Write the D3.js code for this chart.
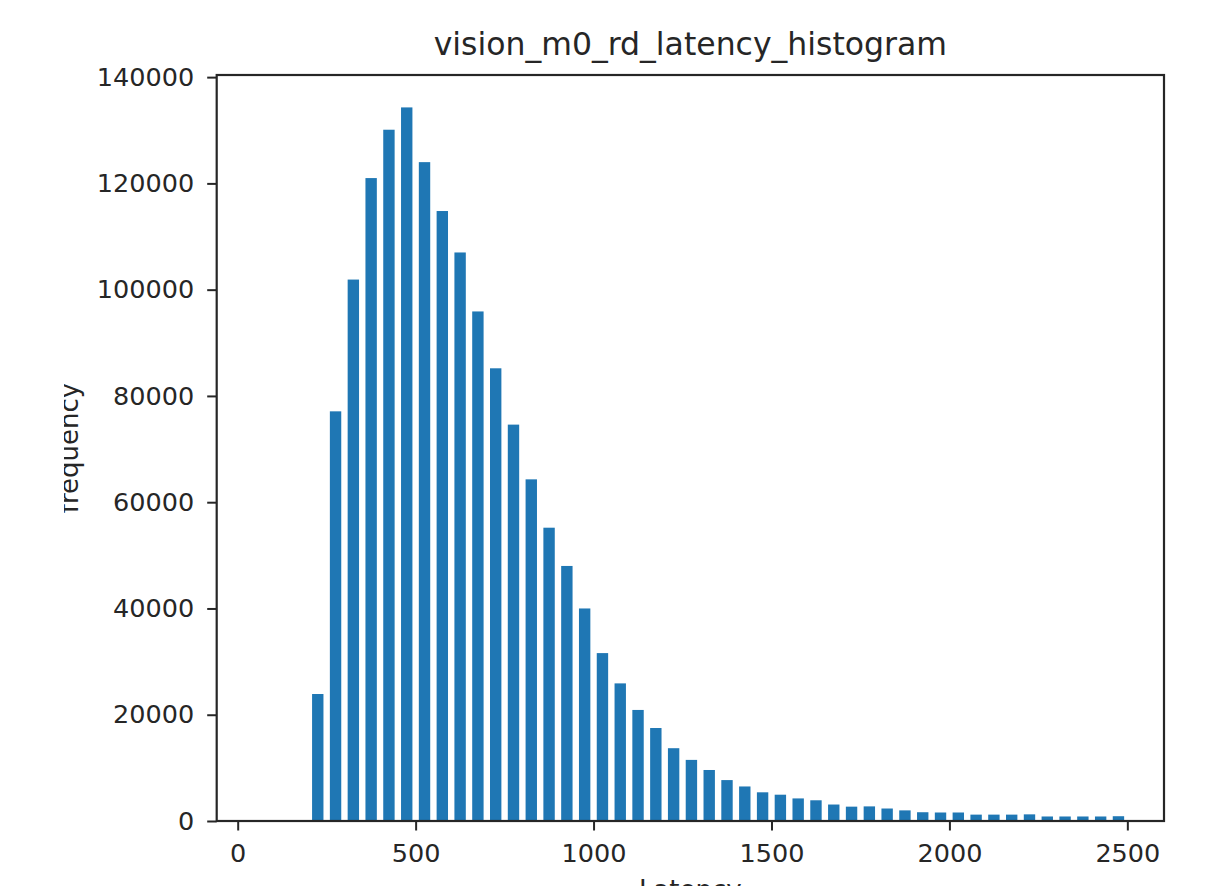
<!DOCTYPE html>
<html>
<head>
<meta charset="utf-8">
<script src="https://cdn.jsdelivr.net/npm/d3@7"></script>
<style>
  html, body { margin: 0; padding: 0; background: #fff; overflow: hidden; }
  svg { display: block; font-family: "DejaVu Sans", sans-serif; }
  .axis text { fill: #262626; font-size: 25.5px; font-family: "DejaVu Sans", sans-serif; }
  .axis line { stroke: #262626; stroke-width: 2; }
</style>
</head>
<body>
<script>
// bin centres (latency) and the count in each bin
const latency = [
  225, 275, 325, 375, 425, 475, 525, 575, 625, 675,
  725, 775, 825, 875, 925, 975, 1025, 1075, 1125, 1175,
  1225, 1275, 1325, 1375, 1425, 1475, 1525, 1575, 1625, 1675,
  1725, 1775, 1825, 1875, 1925, 1975, 2025, 2075, 2125, 2175,
  2225, 2275, 2325, 2375, 2425, 2475
];
const frequency = [
  23900, 77100, 101900, 121000, 130100, 134300, 124000, 114800, 107000, 95900,
  85200, 74600, 64300, 55200, 48000, 40000, 31600, 25900, 20900, 17500,
  13700, 11500, 9600, 7700, 6500, 5400, 4950, 4250, 3900, 3100,
  2700, 2750, 2350, 2000, 1650, 1600, 1600, 1200, 1200, 1200,
  1250, 850, 850, 850, 850, 900
];
const xTicks = [0, 500, 1000, 1500, 2000, 2500];
const yTicks = [0, 20000, 40000, 60000, 80000, 100000, 120000, 140000];

const W = 1223, H = 886;
const plot = { left: 216.7, right: 1164, top: 75, bottom: 821 };
const barWidth = 32; // in latency units, bins are 50 wide

const svg = d3.select('body')
  .append('svg')
  .attr('width', W)
  .attr('height', H);

const x = d3.scaleLinear()
  .domain([-59, 2603])
  .range([plot.left, plot.right]);

const y = d3.scaleLinear()
  .domain([0, 140400])
  .range([plot.bottom, plot.top]);

// bars
svg.append('g')
  .selectAll('rect')
  .data(latency)
  .enter()
  .append('rect')
  .attr('x', (d) => x(d - barWidth / 2))
  .attr('width', (d) => x(d + barWidth / 2) - x(d - barWidth / 2))
  .attr('y', (d, i) => y(frequency[i]))
  .attr('height', (d, i) => y(0) - y(frequency[i]))
  .attr('fill', '#1f77b4');

// axes
const xAxis = d3.axisBottom(x)
  .tickValues(xTicks)
  .tickSize(9.5)
  .tickPadding(13)
  .tickFormat(d3.format('d'));

svg.append('g')
  .attr('class', 'axis')
  .attr('transform', 'translate(0,' + plot.bottom + ')')
  .call(xAxis)
  .select('.domain').remove();

const yAxis = d3.axisLeft(y)
  .tickValues(yTicks)
  .tickSize(9.5)
  .tickPadding(13)
  .tickFormat(d3.format('d'));

svg.append('g')
  .attr('class', 'axis')
  .attr('transform', 'translate(' + plot.left + ',0)')
  .call(yAxis)
  .select('.domain').remove();

// frame (spines)
svg.append('rect')
  .attr('x', plot.left)
  .attr('y', plot.top)
  .attr('width', plot.right - plot.left)
  .attr('height', plot.bottom - plot.top)
  .attr('fill', 'none')
  .attr('stroke', '#262626')
  .attr('stroke-width', 2.2);

// title
svg.append('text')
  .attr('x', (plot.left + plot.right) / 2)
  .attr('y', 55)
  .attr('text-anchor', 'middle')
  .attr('fill', '#262626')
  .style('font-size', '31.5px')
  .text('vision_m0_rd_latency_histogram');

// x label, cut off by the bottom of the picture like the original
svg.append('text')
  .attr('x', (plot.left + plot.right) / 2)
  .attr('y', 899)
  .attr('text-anchor', 'middle')
  .attr('fill', '#262626')
  .style('font-size', '26px')
  .text('Latency');

// y label, its left side is cropped in the original
svg.append('clipPath')
  .attr('id', 'ylabel-clip')
  .append('rect')
  .attr('x', 64)
  .attr('y', 0)
  .attr('width', 100)
  .attr('height', H);

svg.append('g')
  .attr('clip-path', 'url(#ylabel-clip)')
  .append('text')
  .attr('transform', 'translate(78,' + (plot.top + plot.bottom) / 2 + ') rotate(-90)')
  .attr('text-anchor', 'middle')
  .attr('fill', '#262626')
  .style('font-size', '26px')
  .text('frequency');
</script>
</body>
</html>
